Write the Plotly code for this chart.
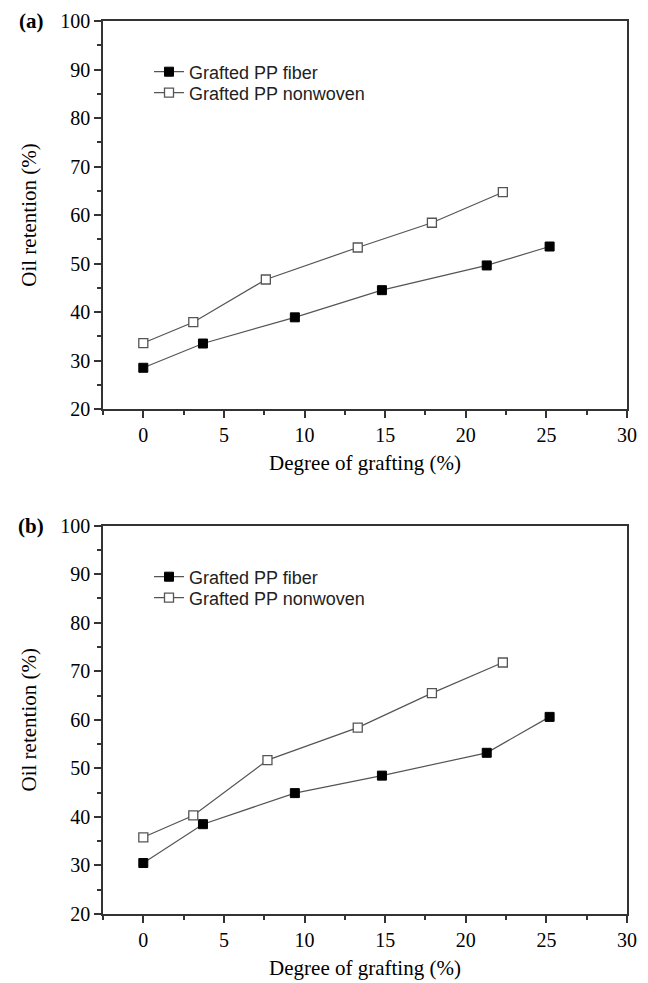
import plotly.graph_objects as go

# Panel (a)
a_fiber_x = [0, 3.7, 9.4, 14.8, 21.3, 25.2]
a_fiber_y = [28.5, 33.5, 38.9, 44.5, 49.6, 53.5]
a_nonwoven_x = [0, 3.1, 7.6, 13.3, 17.9, 22.3]
a_nonwoven_y = [33.6, 37.9, 46.7, 53.3, 58.4, 64.7]

# Panel (b)
b_fiber_x = [0, 3.7, 9.4, 14.8, 21.3, 25.2]
b_fiber_y = [30.5, 38.5, 44.9, 48.5, 53.2, 60.6]
b_nonwoven_x = [0, 3.1, 7.7, 13.3, 17.9, 22.3]
b_nonwoven_y = [35.8, 40.3, 51.7, 58.4, 65.5, 71.8]

series_names = ["Grafted PP fiber", "Grafted PP nonwoven"]
panel_labels = ["(a)", "(b)"]

W, H = 648, 983
ml, mr, mt, mb = 103, 21, 21, 69
ph = H - mt - mb
a_dom = [(914 - 409) / ph, 1.0]
b_dom = [0.0, (914 - 525.6) / ph]

fig = go.Figure()

line_col = "#555555"

def add_panel(xs, ys, xaxis, yaxis, legends):
    fig.add_trace(go.Scatter(
        x=xs[0], y=ys[0], mode="lines+markers", name=series_names[0],
        xaxis=xaxis, yaxis=yaxis, legend=legends[0],
        line=dict(color=line_col, width=1.2),
        marker=dict(symbol="square", size=9, color="black",
                    line=dict(color="black", width=1))))
    fig.add_trace(go.Scatter(
        x=xs[1], y=ys[1], mode="lines+markers", name=series_names[1],
        xaxis=xaxis, yaxis=yaxis, legend=legends[1],
        line=dict(color=line_col, width=1.2),
        marker=dict(symbol="square", size=9, color="white",
                    line=dict(color="#555555", width=1.3))))

add_panel([a_fiber_x, a_nonwoven_x], [a_fiber_y, a_nonwoven_y], "x", "y", ["legend", "legend2"])
add_panel([b_fiber_x, b_nonwoven_x], [b_fiber_y, b_nonwoven_y], "x2", "y2", ["legend3", "legend4"])

tickfont = dict(family="Liberation Serif", size=20, color="black")
titlefont = dict(family="Liberation Serif", size=21, color="black")

def xaxis_cfg(anchor):
    return dict(
        domain=[0, 1], anchor=anchor, range=[-2.5, 30], dtick=5, tick0=0,
        showline=True, mirror=True, linecolor="#333333", linewidth=1.5,
        ticks="outside", ticklen=7, tickwidth=1.5, tickcolor="#333333",
        minor=dict(ticks="outside", dtick=2.5, tick0=0, ticklen=4,
                   tickwidth=1.5, tickcolor="#333333"),
        showgrid=False, zeroline=False, tickfont=tickfont, automargin=False,
        title=dict(text="Degree of grafting (%)", font=titlefont, standoff=11),
    )

def yaxis_cfg(anchor, dom):
    return dict(
        domain=dom, anchor=anchor, range=[20, 100], dtick=10, tick0=20,
        showline=True, mirror=True, linecolor="#333333", linewidth=1.5,
        ticks="outside", ticklen=7, tickwidth=1.5, tickcolor="#333333",
        minor=dict(ticks="outside", dtick=5, tick0=20, ticklen=4,
                   tickwidth=1.5, tickcolor="#333333"),
        showgrid=False, zeroline=False, tickfont=tickfont, automargin=False,
        title=dict(text="Oil retention (%)", font=titlefont, standoff=18),
    )

leg_font = dict(family="Liberation Sans", size=18, color="#222222")

def leg(ypx):
    return dict(x=(149 - ml) / 524, y=(914 - ypx) / ph, xanchor="left",
                yanchor="middle", bgcolor="rgba(0,0,0,0)", font=leg_font)

fig.update_layout(
    width=W, height=H,
    margin=dict(l=ml, r=mr, t=mt, b=mb, autoexpand=False),
    paper_bgcolor="white", plot_bgcolor="white",
    xaxis=xaxis_cfg("y"),
    yaxis=yaxis_cfg("x", a_dom),
    xaxis2=xaxis_cfg("y2"),
    yaxis2=yaxis_cfg("x2", b_dom),
    legend=leg(72),
    legend2=leg(93),
    legend3=leg(577),
    legend4=leg(598),
    showlegend=True,
)

for lbl, ytop in zip(panel_labels, [a_dom[1], b_dom[1]]):
    fig.add_annotation(
        text="<b>" + lbl + "</b>", xref="paper", yref="paper",
        x=(31 - ml) / 524, y=ytop, xanchor="center", yanchor="middle",
        showarrow=False,
        font=dict(family="Liberation Serif", size=21, color="black"))

fig.write_html("out.html")
